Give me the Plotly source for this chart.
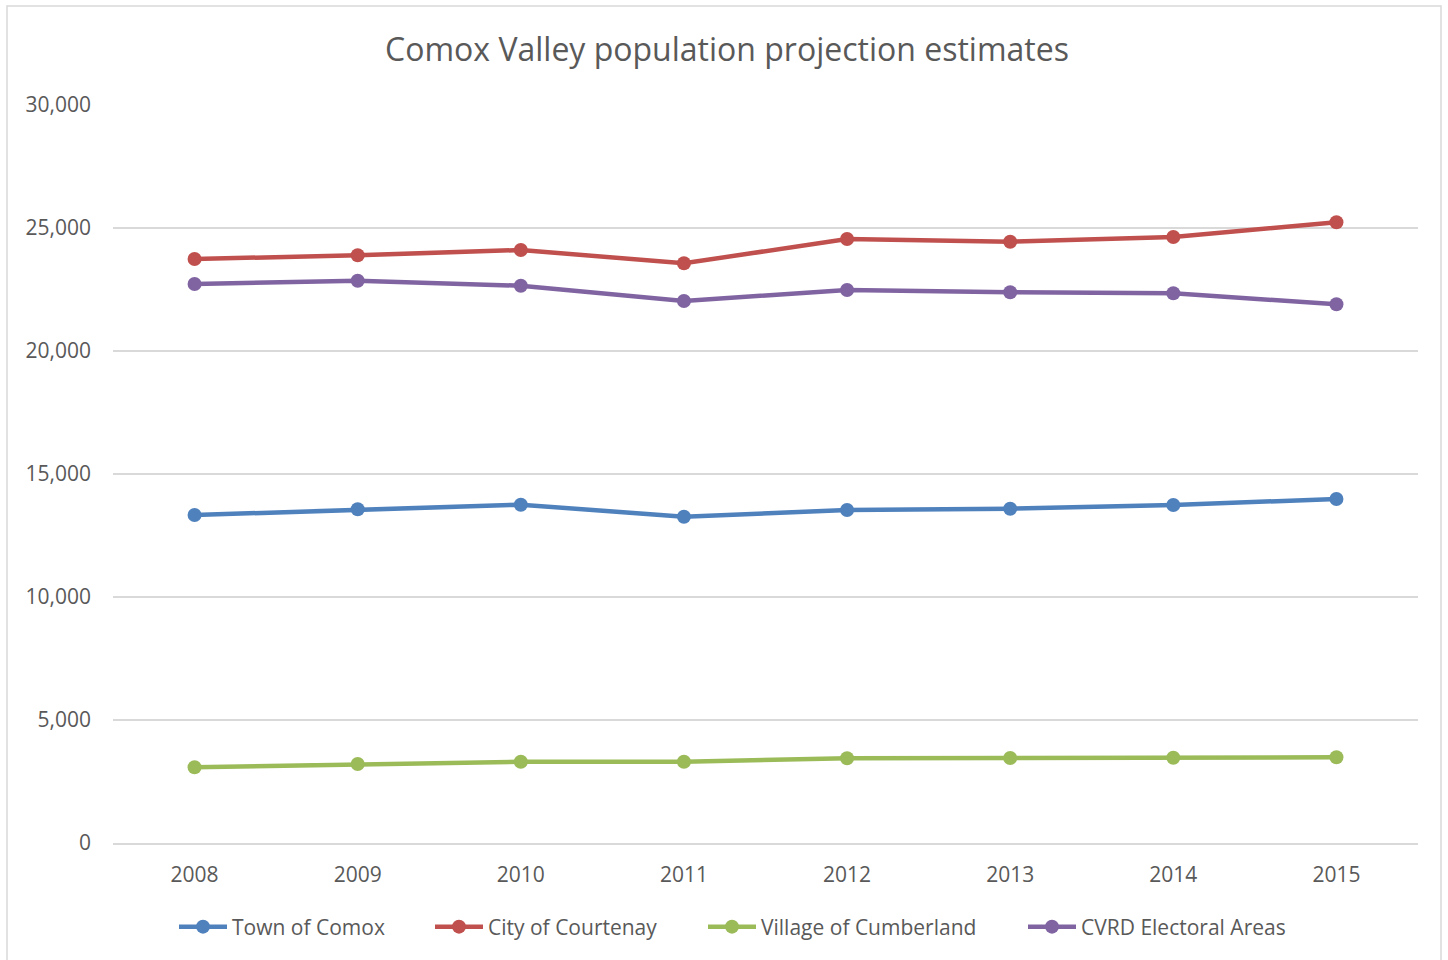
import plotly.graph_objects as go

years = ["2008", "2009", "2010", "2011", "2012", "2013", "2014", "2015"]
town_of_comox = [13333, 13565, 13752, 13264, 13537, 13589, 13740, 13984]
city_of_courtenay = [23740, 23890, 24106, 23565, 24553, 24444, 24634, 25232]
village_of_cumberland = [3077, 3211, 3305, 3305, 3443, 3455, 3468, 3484]
cvrd_electoral_areas = [22724, 22858, 22654, 22033, 22480, 22386, 22346, 21898]

series = [
    ("Town of Comox", town_of_comox, "#4F81BD"),
    ("City of Courtenay", city_of_courtenay, "#C0504D"),
    ("Village of Cumberland", village_of_cumberland, "#9BBB59"),
    ("CVRD Electoral Areas", cvrd_electoral_areas, "#8064A2"),
]

FONT = "Open Sans"
TXT = "#595959"
W, H = 1448, 960
# target plot area in page pixels: x 113..1418, y 105..843
L, T = 113, 105
R = W - 1418
B = H - 843
pw, ph = W - L - R, H - T - B

def px_x(p):
    return (p - L) / pw

def px_y(p):
    return (843 - p) / ph

legend_names = ["legend", "legend2", "legend3", "legend4"]
legend_left = [174, 430, 703, 1023]

fig = go.Figure()
for (name, vals, col), lg in zip(series, legend_names):
    fig.add_trace(go.Scatter(
        x=years, y=vals, name=name, mode="lines+markers",
        line=dict(color=col, width=4.5),
        marker=dict(color=col, size=14),
        legend=lg,
    ))

layout_legends = {}
for lg, lx in zip(legend_names, legend_left):
    layout_legends[lg] = dict(
        orientation="h", x=px_x(lx), xanchor="left",
        y=px_y(927), yanchor="middle",
        font=dict(family=FONT, size=21, color=TXT),
        bgcolor="rgba(0,0,0,0)", itemwidth=48,
    )

fig.update_layout(
    width=W, height=H,
    margin=dict(l=L, r=R, t=T, b=B),
    paper_bgcolor="white", plot_bgcolor="white",
    font=dict(family=FONT, color=TXT, size=21),
    title=dict(text="Comox Valley population projection estimates",
               x=727 / W, xanchor="center", y=1 - 50 / H, yanchor="middle",
               font=dict(family=FONT, size=32, color=TXT)),
    xaxis=dict(type="category", range=[-0.5, 7.5], showgrid=False,
               showline=True, linecolor="#D9D9D9", linewidth=1.5,
               ticks="", tickfont=dict(size=21, color=TXT), ticklabelstandoff=12),
    yaxis=dict(range=[0, 30000], dtick=5000, tickformat=",", showgrid=True,
               gridcolor="#D9D9D9", gridwidth=1.5, zeroline=False, showline=False,
               ticks="", tickfont=dict(size=21, color=TXT), ticklabelstandoff=21),
    showlegend=True,
    **layout_legends,
)

# outer chart border
fig.add_shape(type="rect", xref="paper", yref="paper",
              x0=px_x(7), x1=px_x(1441),
              y0=px_y(965), y1=px_y(6),
              line=dict(color="#D9D9D9", width=1.5), fillcolor="rgba(0,0,0,0)", layer="above")

fig.write_html("out.html", config={"displayModeBar": False},
               post_script="document.body.style.margin='0px';")
